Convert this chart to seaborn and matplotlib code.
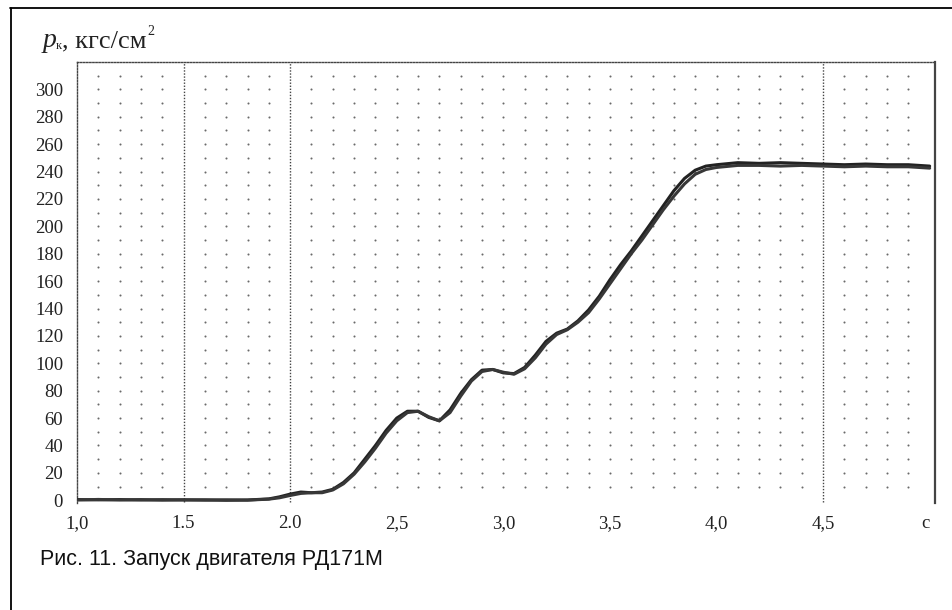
import numpy as np
import pandas as pd
import matplotlib
matplotlib.use("Agg")
import matplotlib.pyplot as plt
from matplotlib.lines import Line2D
import seaborn as sns

# ---- data ----
time_s = [1.0, 1.1, 1.2, 1.3, 1.4, 1.5, 1.6, 1.7, 1.8, 1.9, 1.95, 2.0, 2.05, 2.1, 2.15,
          2.2, 2.25, 2.3, 2.35, 2.4, 2.45, 2.5, 2.55, 2.6, 2.65, 2.7, 2.75, 2.8, 2.85, 2.9,
          2.95, 3.0, 3.05, 3.1, 3.15, 3.2, 3.25, 3.3, 3.35, 3.4, 3.45, 3.5, 3.55, 3.6, 3.65,
          3.7, 3.75, 3.8, 3.85, 3.9, 3.95, 4.0, 4.1, 4.2, 4.3, 4.4, 4.5, 4.6, 4.7, 4.8, 4.9, 5.0]
pressure_a = [0.5, 0.3, 0.5, 0.2, 0.4, 0.2, 0.3, 0.0, 0.2, 1.0, 2.5, 4.5, 6.0, 5.5, 6.0,
              8.0, 13.0, 20.0, 30.0, 40.0, 51.0, 60.0, 65.0, 65.0, 60.5, 58.0, 66.0, 78.0, 88.0, 95.0,
              95.5, 93.0, 92.5, 97.0, 106.0, 116.0, 122.0, 125.0, 131.0, 139.0, 149.0, 161.0, 172.0, 182.0, 193.0,
              204.0, 215.0, 226.0, 235.0, 241.0, 244.0, 245.0, 246.5, 246.0, 246.5, 246.0, 245.5, 245.0, 245.5, 245.0, 245.0, 244.0]
pressure_b = [0.2, 0.6, 0.2, 0.5, 0.1, 0.4, 0.1, 0.3, 0.1, 0.8, 1.8, 3.5, 5.0, 5.5, 5.5,
              7.5, 12.0, 19.0, 28.0, 38.0, 49.0, 58.0, 64.0, 65.0, 61.0, 58.0, 64.0, 76.0, 87.0, 94.0,
              95.5, 93.5, 92.0, 96.0, 104.0, 114.0, 121.0, 124.5, 130.0, 137.0, 147.0, 158.0, 169.0, 180.0, 190.0,
              201.0, 212.0, 222.0, 231.0, 238.0, 241.5, 243.0, 244.5, 244.5, 244.0, 244.5, 244.0, 243.5, 244.0, 243.5, 243.5, 242.5]
trace_names = ["запуск 1", "запуск 2"]

x_ticks = [1.0, 1.5, 2.0, 2.5, 3.0, 3.5, 4.0, 4.5, 4.98]
x_tick_labels = ["1,0", "1.5", "2.0", "2,5", "3,0", "3,5", "4,0", "4,5", "c"]
y_ticks = list(range(0, 301, 20))
y_tick_labels = [str(v) for v in y_ticks]
caption = "Рис. 11. Запуск двигателя РД171М"

df = pd.concat([
    pd.DataFrame({"t": time_s, "p": pressure_a, "trace": trace_names[0]}),
    pd.DataFrame({"t": time_s, "p": pressure_b, "trace": trace_names[1]}),
])

sns.set_theme(style="white")
plt.rcParams["font.family"] = ["Liberation Serif", "DejaVu Serif"]

W, H = 953, 610
fig = plt.figure(figsize=(W / 100, H / 100), dpi=100)
fig.patch.set_facecolor("white")
ax = fig.add_axes([77 / W, 1 - 503 / H, (935 - 77) / W, (503 - 62) / H])
ax.set_facecolor("white")

# sparse dotted grid (dots at 0.1 s x 10 units)
gx, gy = np.meshgrid(np.round(np.arange(1.1, 4.95, 0.1), 2), np.arange(10, 311, 10))
mask = ~np.isin(gx, [1.5, 2.0, 4.5])
ax.scatter(gx[mask], gy[mask], s=2.2, color="#6a6a6a", linewidths=0, zorder=1)

# dotted vertical reference lines
for xv in [1.5, 2.0, 4.5]:
    ax.plot([xv, xv], [-1, 320], color="#444444", lw=1.0, ls=(0, (1, 1.2)), zorder=1)

sns.lineplot(data=df, x="t", y="p", hue="trace", palette=["#222222", "#383838"],
             linewidth=2.2, legend=False, ax=ax, zorder=3)

ax.set_xlim(1.0, 5.025)
ax.set_ylim(-2, 320)
ax.set_xticks(x_ticks)
ax.set_xticklabels(x_tick_labels)
ax.set_yticks(y_ticks)
ax.set_yticklabels(y_tick_labels)
ax.set_xlabel("")
ax.set_ylabel("")
ax.tick_params(axis="x", length=0, pad=9, labelsize=13.5, colors="#222222")
ax.tick_params(axis="y", length=0, pad=10, labelsize=13.5, colors="#222222")

for s in ["left", "top"]:
    ax.spines[s].set_visible(True)
    ax.spines[s].set_linestyle((0, (1, 1.2)))
    ax.spines[s].set_color("#444444")
    ax.spines[s].set_linewidth(1.0)
ax.spines["right"].set_color("#444444")
ax.spines["right"].set_linewidth(1.6)
ax.spines["bottom"].set_visible(False)

# y-axis title: p_к, кгс/см²
fig.text(43 / W, 1 - 47 / H, "p", fontsize=20, style="italic", va="baseline", ha="left",
         family=["Liberation Serif"], color="#222222")
fig.text(56 / W, 1 - 49 / H, "к", fontsize=9, va="baseline", ha="left",
         family=["Liberation Serif"], color="#222222")
fig.text(62 / W, 1 - 47 / H, ", кгс/см", fontsize=19, va="baseline", ha="left",
         family=["Liberation Serif"], color="#222222")
fig.text(147.5 / W, 1 - 35 / H, "2", fontsize=10, va="baseline", ha="left",
         family=["Liberation Serif"], color="#222222")

# caption
fig.text(40 / W, 1 - 560 / H, caption, fontsize=15.5, va="center", ha="left",
         family=["Liberation Sans", "DejaVu Sans"], color="#111111")

# frame of the figure (left and top edges)
fig.add_artist(Line2D([10.5 / W, 10.5 / W], [0, 1 - 8 / H], transform=fig.transFigure,
                      color="black", lw=1.3))
fig.add_artist(Line2D([10 / W, 1], [1 - 8 / H, 1 - 8 / H], transform=fig.transFigure,
                      color="black", lw=1.3))

fig.savefig("out.png", dpi=100, facecolor="white")
